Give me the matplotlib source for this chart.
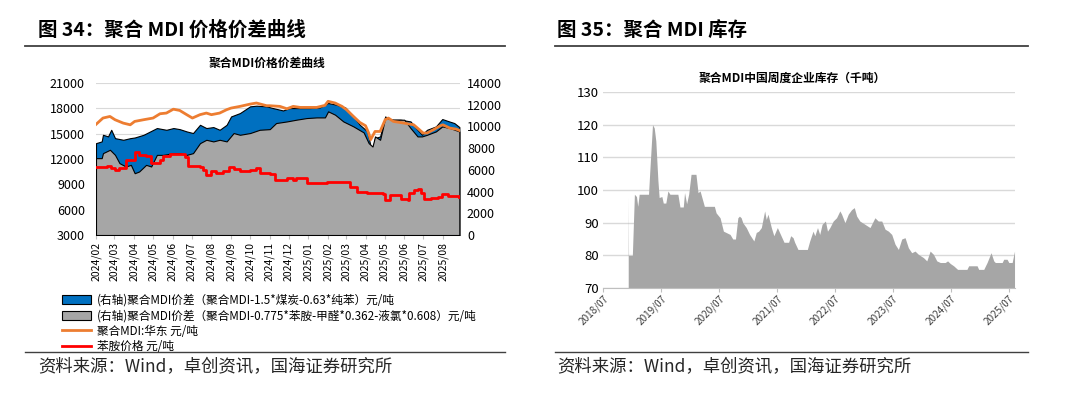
import numpy as np
import pandas as pd
import matplotlib.pyplot as plt
import matplotlib.dates as mdates
from matplotlib.lines import Line2D
from matplotlib.patches import Patch

plt.rcParams['font.family'] = ['Noto Sans CJK SC', 'DejaVu Sans']

# ---- 图34 数据 ----
# 右轴: 聚合MDI价差 (聚合MDI-1.5*煤炭-0.63*纯苯)
blue_dates = ['2024-02-01', '2024-02-10', '2024-02-12', '2024-02-20', '2024-02-25', '2024-03-02',
              '2024-03-15', '2024-03-26', '2024-04-02', '2024-04-16', '2024-05-07', '2024-05-22',
              '2024-06-02', '2024-06-12', '2024-06-23', '2024-07-03', '2024-07-14', '2024-07-24',
              '2024-08-04', '2024-08-14', '2024-08-25', '2024-09-01', '2024-09-15', '2024-10-01',
              '2024-10-11', '2024-10-27', '2024-11-06', '2024-11-22', '2024-12-02', '2024-12-18',
              '2025-01-03', '2025-01-19', '2025-02-01', '2025-02-14', '2025-02-28', '2025-03-13',
              '2025-03-23', '2025-04-04', '2025-04-09', '2025-04-12', '2025-04-16', '2025-04-24',
              '2025-05-02', '2025-05-10', '2025-05-26', '2025-06-11', '2025-06-22', '2025-06-29',
              '2025-07-07', '2025-07-21', '2025-07-31', '2025-08-11', '2025-08-19', '2025-08-27']
blue_vals = [8460, 8620, 9230, 9080, 9690, 8920, 8770, 8920, 8980, 9230, 9850, 9690,
             9850, 9750, 9540, 9390, 10150, 9850, 9940, 9690, 10150, 10920, 11230, 11850,
             11910, 11850, 11690, 11470, 11690, 11690, 11690, 11750, 12160, 12000, 11750, 10920,
             10150, 9540, 8150, 7850, 8920, 9080, 10920, 10620, 10620, 10460, 9690, 9230,
             9690, 10000, 10680, 10460, 10310, 9940]

# 右轴: 聚合MDI价差 (聚合MDI-0.775*苯胺-甲醛*0.362-液氯*0.608)
grey_dates = ['2024-02-01', '2024-02-10', '2024-02-12', '2024-02-23', '2024-03-02', '2024-03-09',
              '2024-03-19', '2024-03-27', '2024-04-02', '2024-04-09', '2024-04-20', '2024-04-28',
              '2024-05-07', '2024-05-17', '2024-06-02', '2024-06-12', '2024-06-23', '2024-07-03',
              '2024-07-14', '2024-07-24', '2024-08-04', '2024-08-14', '2024-08-25', '2024-09-05',
              '2024-09-15', '2024-10-01', '2024-10-16', '2024-11-01', '2024-11-11', '2024-11-28',
              '2024-12-13', '2024-12-29', '2025-01-14', '2025-01-27', '2025-02-01', '2025-02-12',
              '2025-02-25', '2025-03-13', '2025-03-29', '2025-04-06', '2025-04-12', '2025-04-16',
              '2025-04-24', '2025-05-02', '2025-05-15', '2025-06-01', '2025-06-11', '2025-06-22',
              '2025-06-29', '2025-07-07', '2025-07-21', '2025-07-31', '2025-08-12', '2025-08-27']
grey_vals = [7080, 7080, 7540, 7850, 7380, 6620, 6310, 6460, 5690, 5850, 6460, 6310,
             7380, 7380, 7540, 7540, 7380, 7540, 8460, 8770, 8620, 8770, 8620, 9390,
             9230, 9390, 9690, 9750, 10310, 10460, 10620, 10770, 10830, 10830, 11390, 11080,
             10460, 10000, 9450, 8460, 8150, 9080, 8770, 10770, 10620, 10620, 9850, 9080,
             9080, 9230, 9540, 10000, 9850, 9540]

# 左轴: 聚合MDI:华东
mdi_dates = ['2024-02-01', '2024-02-12', '2024-02-23', '2024-03-02', '2024-03-15', '2024-03-26',
             '2024-04-02', '2024-04-16', '2024-05-01', '2024-05-12', '2024-05-22', '2024-06-02',
             '2024-06-12', '2024-06-23', '2024-07-02', '2024-07-14', '2024-07-24', '2024-08-01',
             '2024-08-14', '2024-08-25', '2024-09-01', '2024-09-15', '2024-10-01', '2024-10-11',
             '2024-10-27', '2024-11-01', '2024-11-17', '2024-11-28', '2024-12-08', '2024-12-19',
             '2025-01-01', '2025-01-14', '2025-01-27', '2025-02-01', '2025-02-12', '2025-02-23',
             '2025-03-02', '2025-03-13', '2025-03-23', '2025-04-01', '2025-04-06', '2025-04-09',
             '2025-04-16', '2025-04-24', '2025-05-02', '2025-05-07', '2025-05-15', '2025-06-01',
             '2025-06-16', '2025-07-01', '2025-07-07', '2025-07-17', '2025-07-28', '2025-08-01',
             '2025-08-12', '2025-08-22', '2025-08-27']
mdi_vals = [16100, 16850, 17040, 16650, 16250, 16050, 16450, 16650, 16850, 17360, 17440, 17900,
            17750, 17250, 16850, 17250, 17440, 17250, 17440, 17840, 18030, 18230, 18500, 18630,
            18310, 18310, 18230, 17950, 18230, 18110, 18110, 18110, 18350, 18830, 18630, 18230,
            17840, 17040, 16330, 15940, 15070, 14280, 15260, 15260, 16650, 16850, 16450, 16250,
            16050, 15070, 15070, 15460, 15940, 16050, 15660, 15540, 15380]

# 左轴: 苯胺价格
ani_dates = ['2024-02-01', '2024-02-18', '2024-02-25', '2024-03-02', '2024-03-09', '2024-03-19',
             '2024-04-02', '2024-04-09', '2024-04-20', '2024-04-28', '2024-05-12', '2024-05-17',
             '2024-05-27', '2024-06-12', '2024-06-20', '2024-06-25', '2024-07-14', '2024-07-19',
             '2024-07-24', '2024-08-01', '2024-08-09', '2024-08-20', '2024-08-28', '2024-09-05',
             '2024-09-15', '2024-10-01', '2024-10-11', '2024-10-16', '2024-11-01', '2024-11-09',
             '2024-11-28', '2024-12-08', '2024-12-13', '2024-12-29', '2025-01-19', '2025-01-30',
             '2025-02-28', '2025-03-08', '2025-03-19', '2025-04-04', '2025-04-28', '2025-05-01',
             '2025-05-09', '2025-05-19', '2025-05-27', '2025-06-07', '2025-06-09', '2025-06-17',
             '2025-06-22', '2025-06-27', '2025-07-03', '2025-07-13', '2025-07-24', '2025-07-30',
             '2025-08-09', '2025-08-19', '2025-08-27']
ani_vals = [11110, 11190, 10910, 10640, 10910, 11900, 12770, 12490, 12380, 11580, 11900, 12380,
            12570, 12570, 12220, 11190, 11110, 10640, 10120, 10520, 10320, 10520, 11000, 10800,
            10520, 10720, 10910, 10400, 10200, 9530, 9800, 9530, 9730, 9130, 9210, 9330,
            9330, 8740, 8140, 7950, 7870, 7160, 7750, 7750, 7240, 7160, 7950, 8340,
            8420, 7950, 7240, 7360, 7550, 7870, 7670, 7630, 7470]

legend_labels = ['(右轴)聚合MDI价差（聚合MDI-1.5*煤炭-0.63*纯苯）元/吨',
                 '(右轴)聚合MDI价差（聚合MDI-0.775*苯胺-甲醛*0.362-液氯*0.608）元/吨',
                 '聚合MDI:华东 元/吨',
                 '苯胺价格 元/吨']

# ---- 图35 数据: 聚合MDI中国周度企业库存(千吨) ----
inv_dates = ['2018-12-07', '2018-12-09', '2019-01-02', '2019-01-15', '2019-01-28', '2019-02-05',
             '2019-02-14', '2019-04-14', '2019-04-22', '2019-05-09', '2019-05-20', '2019-05-30',
             '2019-06-12', '2019-06-20', '2019-07-07', '2019-07-16', '2019-08-01', '2019-08-14',
             '2019-08-27', '2019-10-16', '2019-10-29', '2019-11-19', '2019-11-27', '2019-12-10',
             '2019-12-23', '2020-01-07', '2020-02-07', '2020-02-20', '2020-03-04', '2020-03-31',
             '2020-06-02', '2020-06-13', '2020-07-08', '2020-07-29', '2020-08-15', '2020-09-09',
             '2020-09-26', '2020-10-13', '2020-10-28', '2020-11-07', '2020-11-18', '2020-11-28',
             '2020-12-20', '2021-01-10', '2021-02-06', '2021-02-21', '2021-03-08', '2021-03-25',
             '2021-04-15', '2021-04-25', '2021-05-06', '2021-05-27', '2021-06-12', '2021-07-04',
             '2021-07-18', '2021-08-15', '2021-09-13', '2021-09-26', '2021-10-11', '2021-10-21',
             '2021-11-11', '2022-01-09', '2022-01-24', '2022-02-14', '2022-02-25', '2022-03-14',
             '2022-03-28', '2022-04-12', '2022-05-03', '2022-05-16', '2022-05-31', '2022-06-21',
             '2022-07-12', '2022-08-02', '2022-08-13', '2022-09-03', '2022-09-24', '2022-10-15',
             '2022-11-01', '2022-11-16', '2022-12-06', '2023-01-07', '2023-02-08', '2023-03-11',
             '2023-04-01', '2023-04-23', '2023-05-14', '2023-06-04', '2023-06-25', '2023-07-16',
             '2023-08-06', '2023-08-27', '2023-09-17', '2023-10-08', '2023-10-29', '2023-11-19',
             '2023-12-10', '2024-01-11', '2024-02-01', '2024-02-22', '2024-03-14', '2024-04-04',
             '2024-04-26', '2024-05-27', '2024-06-11', '2024-06-28', '2024-07-19', '2024-08-13',
             '2024-10-11', '2024-10-22', '2024-12-14', '2024-12-24', '2025-01-25', '2025-02-15',
             '2025-03-12', '2025-03-29', '2025-04-08', '2025-05-21', '2025-05-31', '2025-06-21',
             '2025-07-02', '2025-07-23', '2025-08-07']
inv_vals = [98, 80, 80, 98.7, 98, 95, 98.7, 98.7, 105.8, 120, 119, 115,
            103, 97.7, 98, 96, 96, 99.7, 98.7, 98.7, 94.8, 94.8, 99.2, 95.8,
            98.7, 104.8, 104.8, 99.2, 99.7, 95, 95, 93, 91.5, 87.4, 87, 86.4,
            85, 85, 91.5, 92, 91.5, 90, 88.5, 86.4, 84.4, 87, 87.4, 88.5,
            93.6, 91, 92.6, 88.5, 86, 88.5, 87, 84, 84, 86, 85.4, 84,
            81.8, 81.8, 84.4, 87.4, 86, 88.5, 86.4, 89.5, 90.5, 87.4, 88.5, 90.5,
            91.5, 93.6, 92.6, 90, 92.6, 94, 94.6, 92, 90.5, 89.5, 88.5, 91.5,
            90.5, 90.5, 88, 87.4, 86.4, 83.4, 81.8, 85, 85.4, 82.3, 80.8, 81.3,
            80.3, 79.3, 78.3, 81.3, 80.3, 78.3, 77.8, 77.8, 78.3, 77.5, 76.8, 75.7,
            75.7, 76.8, 76.8, 75.7, 75.7, 77.8, 80.8, 78.3, 77.8, 77.8, 78.8, 78.8,
            77.8, 77.8, 81.3]

fig = plt.figure(figsize=(10.8, 3.96), dpi=100)

# ================= 图34 =================
ax = fig.add_axes([96 / 1080, 1 - 235 / 396, 364 / 1080, 152 / 396])
ax2 = ax.twinx()
ax3 = ax.twinx()
ax.set_zorder(0)
ax2.set_zorder(1)
ax3.set_zorder(2)

ax2.fill_between(pd.to_datetime(blue_dates), 0, blue_vals, facecolor='#0070C0',
                 edgecolor='black', linewidth=0.8)
ax2.fill_between(pd.to_datetime(grey_dates), 0, grey_vals, facecolor='#A6A6A6',
                 edgecolor='black', linewidth=0.8)
ax3.plot(pd.to_datetime(mdi_dates), mdi_vals, color='#ED7D31', lw=2)
ax3.plot(pd.to_datetime(ani_dates), ani_vals, color='#FF0000', lw=2, drawstyle='steps-post')

ax.set_ylim(3000, 21000)
ax.set_yticks(np.arange(3000, 21001, 3000))
ax2.set_ylim(0, 14000)
ax2.set_yticks(np.arange(0, 14001, 2000))
ax3.set_ylim(3000, 21000)
ax3.axis('off')
ax.set_xlim(pd.Timestamp('2024-02-01'), pd.Timestamp('2025-08-28'))
ax.set_xticks(pd.date_range('2024-02-01', '2025-08-01', freq='MS'))
ax.xaxis.set_major_formatter(mdates.DateFormatter('%Y/%m'))

ax.yaxis.grid(True, color='#D9D9D9', lw=0.8)
ax.set_axisbelow(True)
for s in ['top', 'right', 'left']:
    ax.spines[s].set_visible(False)
ax.spines['bottom'].set_color('#BFBFBF')
for s in ax2.spines.values():
    s.set_visible(False)
ax.tick_params(axis='y', length=0, labelsize=9, pad=8)
ax2.tick_params(axis='y', length=0, labelsize=9, pad=5)
ax.tick_params(axis='x', length=3, color='#BFBFBF', labelsize=7.5, rotation=90, pad=2)

fig.text(267 / 1080, 1 - 63 / 396, '聚合MDI价格价差曲线', fontsize=8.5, fontweight='bold',
         ha='center', va='center')

handles = [Patch(facecolor='#0070C0', edgecolor='black', lw=0.8),
           Patch(facecolor='#A6A6A6', edgecolor='black', lw=0.8),
           Line2D([], [], color='#ED7D31', lw=2),
           Line2D([], [], color='#FF0000', lw=2)]
fig.legend(handles, legend_labels, loc='upper left', bbox_to_anchor=(62 / 1080, 1 - 294 / 396),
           frameon=False, fontsize=8.4, handlelength=2.5, handleheight=0.8, labelspacing=0.2,
           handletextpad=0.5, borderaxespad=0, borderpad=0)

# ================= 图35 =================
bx = fig.add_axes([603 / 1080, 1 - 288 / 396, 412 / 1080, 196 / 396])
bx.fill_between(pd.to_datetime(inv_dates), 70, inv_vals, color='#A6A6A6', lw=0)
bx.set_ylim(70, 130)
bx.set_yticks(np.arange(70, 131, 10))
bx.set_xlim(pd.Timestamp('2018-07-01'), pd.Timestamp('2025-08-10'))
bx.set_xticks(pd.date_range('2018-07-01', '2025-07-01', freq='12MS'))
bx.xaxis.set_major_formatter(mdates.DateFormatter('%Y/%m'))
bx.yaxis.grid(True, color='#D9D9D9', lw=1)
bx.set_axisbelow(True)
for s in ['top', 'right', 'left']:
    bx.spines[s].set_visible(False)
bx.spines['bottom'].set_color('#BFBFBF')
bx.tick_params(axis='y', length=0, labelsize=9.5, pad=3)
bx.tick_params(axis='x', length=3, color='#BFBFBF', labelsize=7.2, labelcolor='#404040', pad=1)
for lab in bx.get_xticklabels():
    lab.set_rotation(45)
    lab.set_ha('right')
    lab.set_rotation_mode('anchor')

fig.text(792 / 1080, 1 - 78 / 396, '聚合MDI中国周度企业库存（千吨）', fontsize=8.5, fontweight='bold',
         ha='center', va='center')

# ---- 标题、分隔线、来源 ----
fig.text(38 / 1080, 1 - 30 / 396, '图 34：聚合 MDI 价格价差曲线', fontsize=14, fontweight='bold',
         va='center')
fig.text(557 / 1080, 1 - 30 / 396, '图 35：聚合 MDI 库存', fontsize=14, fontweight='bold',
         va='center')
for x0, x1 in [(25, 505), (555, 1028)]:
    fig.add_artist(Line2D([x0 / 1080, x1 / 1080], [1 - 46 / 396] * 2, color='#404040', lw=1.3))
    fig.add_artist(Line2D([x0 / 1080, x1 / 1080], [1 - 352 / 396] * 2, color='#404040', lw=1.0))
fig.text(38 / 1080, 1 - 367 / 396, '资料来源：Wind，卓创资讯，国海证券研究所', fontsize=12.5,
         color='#262626', va='center')
fig.text(557 / 1080, 1 - 367 / 396, '资料来源：Wind，卓创资讯，国海证券研究所', fontsize=12.5,
         color='#262626', va='center')

fig.savefig('out.png', dpi=100)
